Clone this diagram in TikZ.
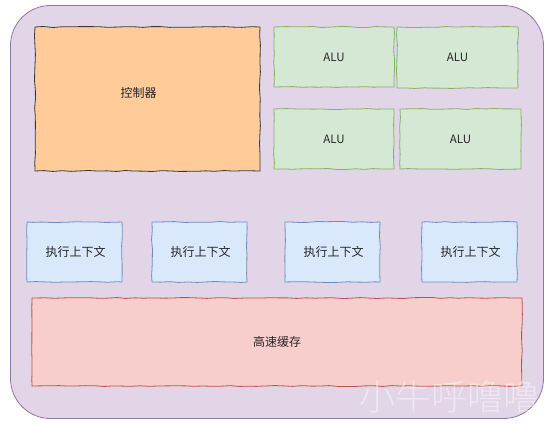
\documentclass[tikz,border=0pt]{standalone}
\usepackage{fontspec}
\setmainfont{Noto Sans CJK SC}
\newfontfamily\wmfont{Noto Sans CJK SC Light}
\usetikzlibrary{decorations.pathmorphing}
\definecolor{outerfill}{HTML}{E1D5E7}
\definecolor{outerdraw}{HTML}{9673A6}
\definecolor{ctrlfill}{HTML}{FFCC99}
\definecolor{ctrldraw}{HTML}{36393D}
\definecolor{alufill}{HTML}{D5E8D4}
\definecolor{aludraw}{HTML}{82B366}
\definecolor{ctxfill}{HTML}{DAE8FC}
\definecolor{ctxdraw}{HTML}{6C8EBF}
\definecolor{cachefill}{HTML}{F8CECC}
\definecolor{cachedraw}{HTML}{B85450}
\tikzset{
  sketch/.style={decorate, decoration={random steps, segment length=9pt, amplitude=0.5pt}, line width=0.8pt},
  cjklabel/.style={font=\fontsize{12}{14}\selectfont, text=black!85, inner sep=0pt},
  alulabel/.style={font=\fontsize{11.5}{14}\selectfont, text=black!85, inner sep=0pt},
}
\begin{document}
\begin{tikzpicture}[x=1pt,y=-1pt]
\useasboundingbox (0,0) rectangle (556,425);
% outer rounded container
\node[draw=outerdraw, fill=outerfill, line width=0.8pt, rounded corners=40pt,
      minimum width=533pt, minimum height=413pt, inner sep=0pt] (outer) at (277,212) {};
% controller
\draw[sketch, draw=ctrldraw, fill=ctrlfill] (35,27) rectangle (260,171);
\node[cjklabel] (ctrl) at (138.5,93) {控制器};
% ALUs
\foreach \n/\xa/\ya/\xb/\yb in {alua/274/27/394/87, alub/397/27/518/88, aluc/274/109/394/169, alud/400/109/521/169}{
  \draw[sketch, draw=aludraw, fill=alufill] (\xa,\ya) rectangle (\xb,\yb);
  \node[alulabel] (\n) at ({(\xa+\xb)/2},{(\ya+\yb)/2}) {ALU};
}
% execution contexts
\foreach \n/\xa/\xb in {ctxa/27/122, ctxb/152/247, ctxc/285/380, ctxd/422/517}{
  \draw[sketch, draw=ctxdraw, fill=ctxfill] (\xa,222) rectangle (\xb,282);
  \node[cjklabel] (\n) at ({(\xa+\xb)/2+1},252) {执行上下文};
}
% cache
\draw[sketch, draw=cachedraw, fill=cachefill] (32,298) rectangle (522,386);
\node[cjklabel] (cache) at (277,342) {高速缓存};
% watermark
\node[font=\wmfont\fontsize{36}{40}\selectfont, text=white, opacity=0.45, inner sep=0pt] (wm) at (449,397) {小牛呼噜噜};
\end{tikzpicture}
\end{document}
